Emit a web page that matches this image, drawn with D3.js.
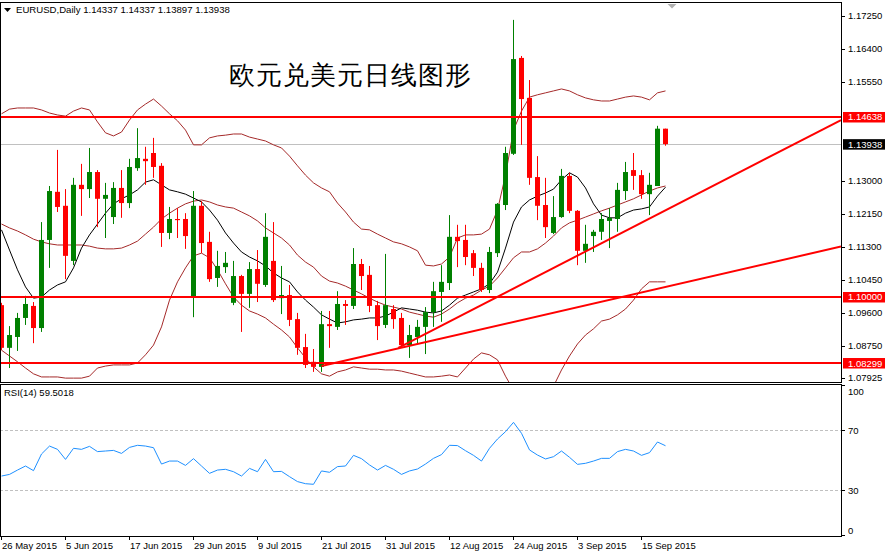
<!DOCTYPE html>
<html>
<head>
<meta charset="utf-8">
<script src="https://cdn.jsdelivr.net/npm/d3@7"></script>
<style>
  body { margin: 0; background: #fff; }
  svg { display: block; }
  text { font-family: "Liberation Sans", Arial, sans-serif; }
</style>
</head>
<body>
<svg id="svg"></svg>
<script>
// EURUSD daily, 26 May 2015 - 18 Sep 2015

const opens = [
  1.0979, 1.0869, 1.0897, 1.0946, 1.0977, 1.0920, 1.1147, 1.1271, 1.1235, 1.1093,
  1.1289, 1.1278, 1.1322, 1.1253, 1.1206, 1.1281, 1.1242, 1.1332, 1.1356, 1.1371,
  1.1338, 1.1165, 1.1201, 1.1201, 1.1000, 1.1235, 1.1142, 1.1049, 1.1077, 1.0985,
  1.1054, 1.1008, 1.1072, 1.1031, 1.1093, 1.0997, 1.1005, 1.0943, 1.0871, 1.0833,
  1.0820, 1.0930, 1.0923, 1.0982, 1.0977, 1.1085, 1.1057, 1.0979, 1.0928, 1.0969,
  1.0946, 1.0876, 1.0897, 1.0923, 1.0961, 1.1013, 1.1036, 1.1155, 1.1147, 1.1113,
  1.1075, 1.1018, 1.1113, 1.1237, 1.1369, 1.1616, 1.1513, 1.1309, 1.1237, 1.1165,
  1.1206, 1.1312, 1.1222, 1.1119, 1.1157, 1.1168, 1.1196, 1.1201, 1.1273, 1.1327,
  1.1314, 1.1265, 1.1286, 1.14337
];
const highs = [
  1.0985, 1.0925, 1.0959, 1.1003, 1.0987, 1.1193, 1.1286, 1.1379, 1.1278, 1.1307,
  1.1343, 1.1384, 1.1327, 1.1294, 1.1296, 1.1327, 1.1356, 1.1435, 1.1387, 1.1410,
  1.1345, 1.1232, 1.1229, 1.1216, 1.1273, 1.1247, 1.1168, 1.1119, 1.1116, 1.1093,
  1.1057, 1.1090, 1.1121, 1.1216, 1.1193, 1.1080, 1.1031, 1.0959, 1.0905, 1.0866,
  1.0964, 1.0964, 1.1015, 1.0992, 1.1126, 1.1098, 1.1080, 1.0990, 1.1111, 1.0979,
  1.0959, 1.0928, 1.0941, 1.0974, 1.1039, 1.1082, 1.1211, 1.1186, 1.1186, 1.1121,
  1.1088, 1.1129, 1.1242, 1.1387, 1.1714, 1.1621, 1.1559, 1.1363, 1.1307, 1.1260,
  1.1330, 1.1320, 1.1224, 1.1186, 1.1173, 1.1216, 1.1229, 1.1294, 1.1348, 1.1371,
  1.1327, 1.1320, 1.1441, 1.14337
];
const lows = [
  1.0863, 1.0817, 1.0861, 1.0928, 1.0881, 1.0910, 1.1075, 1.1219, 1.1046, 1.1082,
  1.1209, 1.1255, 1.1180, 1.1152, 1.1188, 1.1204, 1.1229, 1.1325, 1.1289, 1.1307,
  1.1129, 1.1149, 1.1152, 1.1124, 1.0948, 1.1113, 1.1039, 1.1026, 1.1062, 1.0979,
  1.0910, 1.0972, 1.0987, 1.1026, 1.0987, 1.0956, 1.0925, 1.0851, 1.0817, 1.0807,
  1.0807, 1.0869, 1.0915, 1.0928, 1.0969, 1.1018, 1.0961, 1.0889, 1.0920, 1.0918,
  1.0871, 1.0843, 1.0881, 1.0853, 1.0923, 1.0936, 1.1018, 1.1077, 1.1082, 1.1054,
  1.1013, 1.1010, 1.1103, 1.1224, 1.1366, 1.1392, 1.1289, 1.1198, 1.1152, 1.1162,
  1.1204, 1.1216, 1.1082, 1.1088, 1.1116, 1.1147, 1.1126, 1.1168, 1.1250, 1.1276,
  1.1253, 1.1211, 1.1286, 1.13897
];
const closes = [
  1.0869, 1.0902, 1.0946, 1.0982, 1.0920, 1.1147, 1.1273, 1.1232, 1.1106, 1.1289,
  1.1278, 1.1322, 1.1253, 1.1263, 1.1281, 1.1242, 1.1335, 1.1358, 1.1350, 1.1335,
  1.1165, 1.1201, 1.1198, 1.1157, 1.1235, 1.1139, 1.1046, 1.1080, 1.1088, 1.1054,
  1.1008, 1.1072, 1.1034, 1.1155, 1.0992, 1.1005, 1.0941, 1.0869, 1.0825, 1.0820,
  1.0930, 1.0925, 1.0982, 1.0977, 1.1085, 1.1054, 1.0977, 1.0925, 1.0979, 1.0943,
  1.0876, 1.0902, 1.0923, 1.0961, 1.1015, 1.1039, 1.1155, 1.1144, 1.1103, 1.1075,
  1.1018, 1.1116, 1.1240, 1.1371, 1.1613, 1.1510, 1.1307, 1.1235, 1.1180, 1.1206,
  1.1312, 1.1222, 1.1119, 1.1137, 1.1168, 1.1201, 1.1204, 1.1276, 1.1322, 1.1312,
  1.1265, 1.1289, 1.14337, 1.13938
];

// Bollinger bands (brown) and the short moving average (black)
const bandUpper = [
  1.1472, 1.1484, 1.1487, 1.1487, 1.1487, 1.1482, 1.1474, 1.1469, 1.1466, 1.1479,
  1.1487, 1.1482, 1.1451, 1.1423, 1.1415, 1.1425, 1.1456, 1.1482, 1.1497, 1.1510,
  1.1492, 1.1472, 1.1454, 1.1430, 1.1392, 1.1392, 1.1410, 1.1415, 1.1417, 1.1420,
  1.1420, 1.1412, 1.1407, 1.1402, 1.1392, 1.1384, 1.1363, 1.1338, 1.1314, 1.1294,
  1.1281, 1.1271, 1.1242, 1.1219, 1.1193, 1.1175, 1.1173, 1.1162, 1.1152, 1.1142,
  1.1137, 1.1129, 1.1119, 1.1082, 1.1080, 1.1085, 1.1103, 1.1152, 1.1160, 1.1160,
  1.1162, 1.1175, 1.1224, 1.1314, 1.1430, 1.1479, 1.1515, 1.1521, 1.1526, 1.1531,
  1.1536, 1.1531, 1.1521, 1.1513, 1.1508, 1.1505, 1.1505, 1.1510, 1.1515, 1.1518,
  1.1515, 1.1508, 1.1526, 1.1531
];
const bandMiddle = [
  1.1188, 1.1178, 1.1170, 1.1160, 1.1149, 1.1142, 1.1137, 1.1134, 1.1134, 1.1134,
  1.1134, 1.1131, 1.1126, 1.1124, 1.1124, 1.1126, 1.1134, 1.1144, 1.1162, 1.1180,
  1.1201, 1.1216, 1.1229, 1.1240, 1.1247, 1.1250, 1.1245, 1.1237, 1.1232, 1.1229,
  1.1219, 1.1209, 1.1196, 1.1178, 1.1165, 1.1152, 1.1134, 1.1108, 1.1090, 1.1077,
  1.1054, 1.1041, 1.1036, 1.1028, 1.1018, 1.1008, 1.0997, 1.0987, 1.0979, 1.0974,
  1.0969, 1.0961, 1.0956, 1.0951, 1.0948, 1.0956, 1.0969, 1.0985, 1.0997, 1.1005,
  1.1018, 1.1028, 1.1049, 1.1075, 1.1101, 1.1116, 1.1116, 1.1124, 1.1139, 1.1157,
  1.1178, 1.1191, 1.1198, 1.1206, 1.1214, 1.1222, 1.1229, 1.1237, 1.1245, 1.1253,
  1.1263, 1.1273, 1.1281, 1.1286
];
const bandLower = [
  1.0863, 1.0848, 1.0833, 1.0817, 1.0802, 1.0794, 1.0794, 1.0794, 1.0791, 1.0791,
  1.0791, 1.0796, 1.0817, 1.0822, 1.0825, 1.0825, 1.0825, 1.0830, 1.0851, 1.0876,
  1.0923, 1.0992, 1.1039, 1.1075, 1.1106, 1.1113, 1.1101, 1.1070, 1.1034, 1.1000,
  1.0979, 1.0964, 1.0956, 1.0946, 1.0930, 1.0915, 1.0897, 1.0869, 1.0843, 1.0820,
  1.0802, 1.0796, 1.0807, 1.0812, 1.0820, 1.0817, 1.0814, 1.0814, 1.0812, 1.0812,
  1.0809, 1.0804, 1.0799, 1.0794, 1.0794, 1.0796, 1.0799, 1.0794, 1.0817, 1.0840,
  1.0856, 1.0851, 1.0838, 1.0796, 1.0760, 1.0735, 1.0710, 1.0715, 1.0735, 1.0770,
  1.0812, 1.0848, 1.0879, 1.0902, 1.0918, 1.0938, 1.0943, 1.0954, 1.0969, 1.0992,
  1.1021, 1.1039, 1.1039, 1.1039
];
const fastMA = [
  1.1173, 1.1121, 1.1070, 1.1026, 1.0997, 1.1000, 1.1018, 1.1031, 1.1039, 1.1075,
  1.1126, 1.1160, 1.1188, 1.1216, 1.1240, 1.1253, 1.1263, 1.1276, 1.1296, 1.1302,
  1.1289, 1.1276, 1.1271, 1.1265, 1.1255, 1.1245, 1.1224, 1.1198, 1.1165, 1.1139,
  1.1116, 1.1103, 1.1093, 1.1080, 1.1062, 1.1049, 1.1039, 1.1013, 1.0992, 1.0974,
  1.0954, 1.0943, 1.0933, 1.0936, 1.0941, 1.0943, 1.0946, 1.0946, 1.0951, 1.0961,
  1.0972, 1.0969, 1.0966, 1.0961, 1.0959, 1.0964, 1.0979, 1.0997, 1.1005, 1.1013,
  1.1021, 1.1034, 1.1064, 1.1126, 1.1193, 1.1232, 1.1250, 1.1260, 1.1268, 1.1278,
  1.1302, 1.1320, 1.1309, 1.1281, 1.1240, 1.1211, 1.1204, 1.1204, 1.1216, 1.1224,
  1.1227, 1.1232, 1.1260, 1.1283
];

const rsi = [
  39.3, 40.4, 43.3, 46.0, 42.9, 54.0, 59.3, 57.1, 50.4, 57.8,
  57.1, 59.1, 55.6, 56.0, 56.4, 54.4, 58.4, 59.8, 59.3, 58.2,
  47.3, 49.3, 49.3, 46.4, 50.9, 46.0, 41.1, 43.3, 43.8, 42.2,
  39.3, 44.4, 42.2, 50.4, 42.2, 42.4, 38.9, 35.6, 34.2, 33.8,
  42.7, 41.8, 45.6, 46.0, 53.1, 50.9, 46.7, 43.3, 46.4, 43.8,
  40.4, 42.7, 44.0, 47.3, 51.1, 53.6, 59.8, 59.6, 56.2, 53.1,
  49.3, 57.8, 64.0, 68.9, 75.1, 67.8, 56.7, 53.3, 50.7, 52.2,
  56.0, 51.8, 47.1, 47.8, 49.3, 51.1, 51.1, 55.6, 57.1, 56.0,
  53.1, 54.9, 62.0, 59.5018
];

// horizontal levels and trend lines ([bar index, price])
const levels = [1.14638, 1.10000, 1.08299];
const lastPrice = 1.13938;
const trendLow = [[40, 1.0822], [104.94, 1.1130]];
const trendHigh = [[49.6, 1.0869], [104.94, 1.1456]];

const priceTicks = [1.1725, 1.164, 1.1555, 1.13, 1.1215, 1.113, 1.1045, 1.096, 1.0875, 1.07925];
const rsiTicks = [100, 70, 30, 0];
const rsiLevels = [70, 30];
const tickBars = [0, 8, 16, 24, 32, 40, 48, 56, 64, 72, 80];
const tickLabels = ['26 May 2015', '5 Jun 2015', '17 Jun 2015', '29 Jun 2015', '9 Jul 2015',
  '21 Jul 2015', '31 Jul 2015', '12 Aug 2015', '24 Aug 2015', '3 Sep 2015', '15 Sep 2015'];

const width = 886;
const height = 553;
const panelRight = 841;
const mainTop = 2, mainBottom = 382;
const rsiTop = 384, rsiBottom = 536;

const svg = d3.select('#svg')
  .attr('width', width)
  .attr('height', height);

const x = d3.scaleLinear().domain([0, 83]).range([1.5, 665.5]);
const y = d3.scaleLinear().domain([1.07784, 1.17575]).range([383, 3]);
const yR = d3.scaleLinear().domain([0, 100]).range([535, 385]);

const defs = svg.append('defs');
defs.append('clipPath').attr('id', 'clipMain')
  .append('rect').attr('x', 1).attr('y', mainTop + 1)
  .attr('width', panelRight - 1).attr('height', mainBottom - mainTop - 1);
defs.append('clipPath').attr('id', 'clipRsi')
  .append('rect').attr('x', 1).attr('y', rsiTop + 1)
  .attr('width', panelRight - 1).attr('height', rsiBottom - rsiTop - 1);

const g = svg.append('g').attr('clip-path', 'url(#clipMain)');

// current price line (grey)
g.append('line')
  .attr('x1', 0).attr('x2', panelRight)
  .attr('y1', Math.round(y(lastPrice)) + 0.5).attr('y2', Math.round(y(lastPrice)) + 0.5)
  .attr('stroke', '#c0c0c0');

// title
svg.append('text')
  .attr('x', 229).attr('y', 84)
  .attr('font-family', '"Noto Sans CJK SC", sans-serif')
  .attr('font-weight', 300)
  .attr('font-size', '26px')
  .attr('letter-spacing', '1px')
  .attr('fill', '#000')
  .text('欧元兑美元日线图形');

// bands and MA
const line = d3.line().x((d, i) => x(i)).y(d => y(d));
[bandUpper, bandMiddle, bandLower].forEach(series => {
  g.append('path').attr('d', line(series))
    .attr('fill', 'none').attr('stroke', '#a52a2a').attr('stroke-width', 1);
});
g.append('path').attr('d', line(fastMA))
  .attr('fill', 'none').attr('stroke', '#000').attr('stroke-width', 1);

// candles
const bars = d3.range(opens.length);
const candle = g.selectAll('g.candle').data(bars).enter().append('g').attr('class', 'candle');
const colorOf = i => closes[i] >= opens[i] ? '#008000' : '#ff0000';
candle.append('line')
  .attr('x1', i => Math.floor(x(i)) + 0.5).attr('x2', i => Math.floor(x(i)) + 0.5)
  .attr('y1', i => y(highs[i])).attr('y2', i => y(lows[i]))
  .attr('stroke', colorOf);
candle.append('rect')
  .attr('x', i => Math.floor(x(i)) - 2)
  .attr('width', 5)
  .attr('y', i => y(Math.max(opens[i], closes[i])))
  .attr('height', i => Math.max(1, Math.abs(y(opens[i]) - y(closes[i]))))
  .attr('fill', colorOf);

// horizontal levels
g.selectAll('line.level').data(levels).enter().append('line')
  .attr('class', 'level')
  .attr('x1', 0).attr('x2', panelRight)
  .attr('y1', d => y(d)).attr('y2', d => y(d))
  .attr('stroke', '#ff0000').attr('stroke-width', 2);

// trend lines
const tline = d3.line().x(d => x(d[0])).y(d => y(d[1]));
[trendLow, trendHigh].forEach(t => {
  g.append('path').attr('d', tline(t))
    .attr('fill', 'none').attr('stroke', '#ff0000').attr('stroke-width', 2);
});

// panel frames
svg.append('rect')
  .attr('x', 0.5).attr('y', mainTop + 0.5)
  .attr('width', panelRight).attr('height', mainBottom - mainTop)
  .attr('fill', 'none').attr('stroke', '#000');
svg.append('rect')
  .attr('x', 0.5).attr('y', rsiTop + 0.5)
  .attr('width', panelRight).attr('height', rsiBottom - rsiTop)
  .attr('fill', 'none').attr('stroke', '#000');

// shift marker
svg.append('path')
  .attr('d', `M${x(83) + 2},${mainTop + 2}h9l-4.5,4.5z`)
  .attr('fill', '#b0b0b0');

// header
svg.append('path').attr('d', 'M4,8h7l-3.5,4z').attr('fill', '#000');
svg.append('text')
  .attr('x', 16).attr('y', 13)
  .attr('font-size', '9.6px')
  .attr('fill', '#000')
  .text(`EURUSD,Daily  ${opens[83].toFixed(5)} ${highs[83].toFixed(5)} ${lows[83].toFixed(5)} ${closes[83].toFixed(5)}`);

// price axis
const priceAxis = svg.append('g');
priceAxis.selectAll('line').data(priceTicks).enter().append('line')
  .attr('x1', panelRight + 1).attr('x2', panelRight + 4)
  .attr('y1', d => Math.round(y(d)) + 0.5).attr('y2', d => Math.round(y(d)) + 0.5)
  .attr('stroke', '#000');
priceAxis.selectAll('text').data(priceTicks).enter().append('text')
  .attr('x', panelRight + 7).attr('y', d => y(d) + 3.5)
  .attr('font-size', '9.5px')
  .attr('fill', '#000')
  .text(d => d.toFixed(5));

// level labels
const tags = levels.map(v => ({ v, bg: '#ff0000' })).concat([{ v: lastPrice, bg: '#000' }]);
tags.forEach(t => {
  svg.append('rect')
    .attr('x', panelRight + 2).attr('y', y(t.v) - 5)
    .attr('width', 42).attr('height', 10.5)
    .attr('fill', t.bg);
  svg.append('text')
    .attr('x', panelRight + 7).attr('y', y(t.v) + 3.5)
    .attr('font-size', '9.5px')
    .attr('fill', '#fff')
    .text(t.v.toFixed(5));
});

// RSI panel
const r = svg.append('g').attr('clip-path', 'url(#clipRsi)');
r.selectAll('line.lvl').data(rsiLevels).enter().append('line')
  .attr('class', 'lvl')
  .attr('x1', 0).attr('x2', panelRight)
  .attr('y1', d => Math.round(yR(d)) + 0.5).attr('y2', d => Math.round(yR(d)) + 0.5)
  .attr('stroke', '#c0c0c0').attr('stroke-dasharray', '3,2');
r.append('path')
  .attr('d', d3.line().x((d, i) => x(i)).y(d => yR(d))(rsi))
  .attr('fill', 'none').attr('stroke', '#1e90ff').attr('stroke-width', 1);

svg.append('text')
  .attr('x', 4).attr('y', rsiTop + 12)
  .attr('font-size', '9.5px')
  .attr('fill', '#000')
  .text(`RSI(14) ${rsi[rsi.length - 1].toFixed(4)}`);

svg.selectAll('text.rsiTick').data(rsiTicks).enter().append('text')
  .attr('class', 'rsiTick')
  .attr('x', panelRight + 7)
  .attr('y', d => d === 100 ? yR(d) + 10 : (d === 0 ? yR(d) - 1 : yR(d) + 3.5))
  .attr('font-size', '9.5px')
  .attr('fill', '#000')
  .text(d => d);
svg.selectAll('line.rsiTick').data(rsiTicks).enter().append('line')
  .attr('class', 'rsiTick')
  .attr('x1', panelRight + 1).attr('x2', panelRight + 4)
  .attr('y1', d => Math.round(yR(d)) + 0.5).attr('y2', d => Math.round(yR(d)) + 0.5)
  .attr('stroke', '#000');

// time axis
svg.selectAll('line.tTick').data(tickBars).enter().append('line')
  .attr('class', 'tTick')
  .attr('x1', d => Math.floor(x(d)) + 0.5).attr('x2', d => Math.floor(x(d)) + 0.5)
  .attr('y1', rsiBottom).attr('y2', rsiBottom + 4)
  .attr('stroke', '#000');
svg.selectAll('text.tLabel').data(tickBars).enter().append('text')
  .attr('class', 'tLabel')
  .attr('x', d => Math.floor(x(d)) + 1)
  .attr('y', 549)
  .attr('font-size', '9.5px')
  .attr('fill', '#000')
  .text((d, i) => tickLabels[i]);
</script>
</body>
</html>
